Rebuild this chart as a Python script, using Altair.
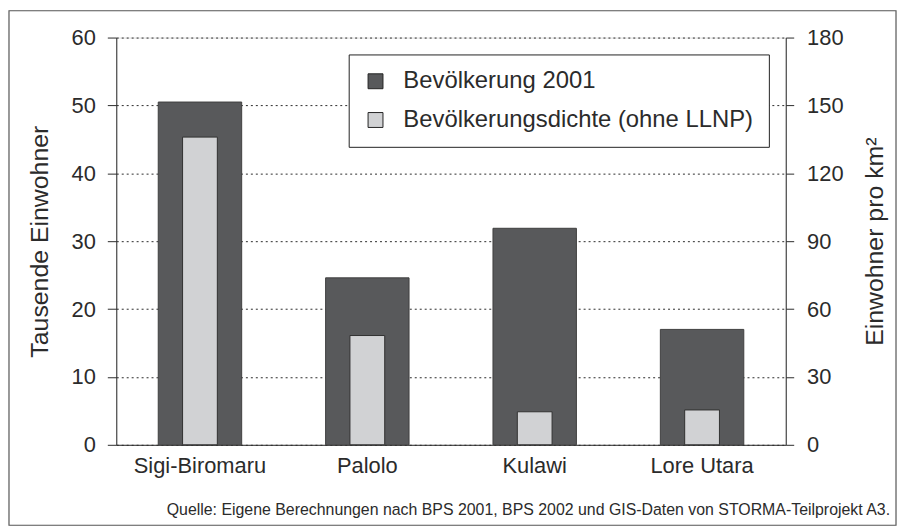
import altair as alt
import pandas as pd

categories = ["Sigi-Biromaru", "Palolo", "Kulawi", "Lore Utara"]
population = [50.5, 24.6, 31.9, 17.0]          # Tausende Einwohner
density = [136.0, 48.3, 14.6, 15.4]            # Einwohner pro km²
series_names = ["Bevölkerung 2001", "Bevölkerungsdichte (ohne LLNP)"]
left_ticks = [0, 10, 20, 30, 40, 50, 60]
right_ticks = [0, 30, 60, 90, 120, 150, 180]
source_text = "Quelle: Eigene Berechnungen nach BPS 2001, BPS 2002 und GIS-Daten von STORMA-Teilprojekt A3."

FONT = "Liberation Sans"
INK = "#2b2b2b"
DARK = "#58595b"
LIGHT = "#d1d2d4"

df_pop = pd.DataFrame({"cat": categories, "value": population, "series": series_names[0]})
df_den = pd.DataFrame({"cat": categories, "value": density, "series": series_names[1]})

x_enc = alt.X(
    "cat:N",
    sort=categories,
    scale=alt.Scale(paddingInner=0, paddingOuter=0),
    axis=alt.Axis(title=None, labelAngle=0, ticks=False, labelPadding=11,
                  labelFontSize=22, domainColor=INK),
)
color_enc = alt.Color(
    "series:N",
    scale=alt.Scale(domain=series_names, range=[DARK, LIGHT]),
    legend=alt.Legend(title=None, orient="none", legendX=234, legendY=17,
                      symbolType="square", symbolSize=225,
                      symbolStrokeColor="#222", symbolStrokeWidth=1,
                      labelFontSize=24, labelOffset=16, labelLimit=600,
                      rowPadding=15, padding=15, strokeColor="#222",
                      fillColor="white"),
)

bars_pop = alt.Chart(df_pop).mark_bar(size=84, stroke="#404040", strokeWidth=1).encode(
    x=x_enc,
    y=alt.Y("value:Q",
            scale=alt.Scale(domain=[0, 60], nice=False, zero=True),
            axis=alt.Axis(title="Tausende Einwohner", orient="left", values=left_ticks,
                          tickSize=9, labelPadding=12, labelFontSize=22,
                          titleFontSize=25, titleFontWeight="normal",
                          titleAngle=270, titleBaseline="middle", titleAlign="center",
                          titleX=-77, titleY=205,
                          grid=True, gridDash=[2, 3], gridColor=INK, gridOpacity=1,
                          domainColor=INK, tickColor=INK)),
    color=color_enc,
)

bars_den = alt.Chart(df_den).mark_bar(size=35, stroke="#303030", strokeWidth=1).encode(
    x=x_enc,
    y=alt.Y("value:Q",
            scale=alt.Scale(domain=[0, 180], nice=False, zero=True),
            axis=alt.Axis(title="Einwohner pro km²", orient="right", values=right_ticks,
                          tickSize=8, labelPadding=13, labelFontSize=22,
                          titleFontSize=25, titleFontWeight="normal",
                          titleAngle=270, titleBaseline="middle", titleAlign="center",
                          titleX=89, titleY=205,
                          grid=False, domainColor=INK, tickColor=INK)),
    color=color_enc,
)

frame = alt.Chart(pd.DataFrame({"f": [0]})).mark_rect(
    fill=None, stroke="#555", strokeWidth=1.2
).encode(x=alt.value(-108), x2=alt.value(785), y=alt.value(-27), y2=alt.value(491))

source = alt.Chart(pd.DataFrame({"t": [source_text]})).mark_text(
    align="right", baseline="middle", fontSize=16, font=FONT, color=INK
).encode(text="t:N", x=alt.value(779), y=alt.value(476))

chart = (
    alt.layer(bars_pop, bars_den, frame, source)
    .resolve_scale(y="independent")
    .properties(
        width=674, height=410,
        autosize=alt.AutoSizeParams(type="none"),
        padding={"left": 109, "top": 28, "right": 112, "bottom": 82},
        background="white",
    )
    .configure_view(stroke=INK, strokeWidth=1)
    .configure(font=FONT)
    .configure_axis(labelColor=INK, titleColor=INK, labelFont=FONT, titleFont=FONT)
    .configure_legend(labelColor=INK, labelFont=FONT)
)

chart.save("out.html", embed_options={"renderer": "svg", "actions": False})
